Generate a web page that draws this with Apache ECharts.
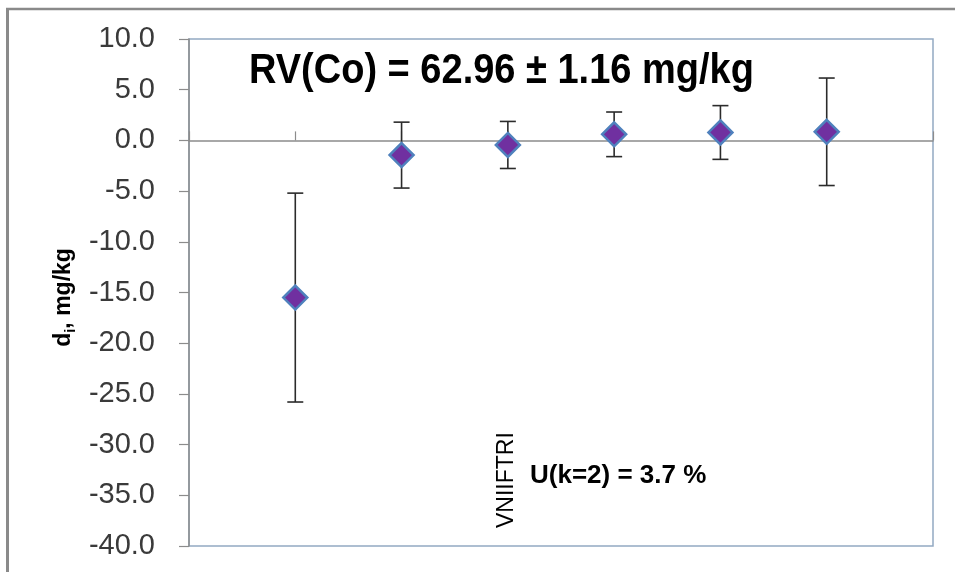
<!DOCTYPE html>
<html>
<head>
<meta charset="utf-8">
<script src="https://cdn.jsdelivr.net/npm/echarts@6/dist/echarts.min.js"></script>
<style>
  html, body { margin: 0; padding: 0; background: #ffffff; }
  #chart { width: 955px; height: 572px; }
</style>
</head>
<body>
<div id="chart"></div>
<script>
// Laboratory positions along the x scale and their deviations d_i with expanded uncertainties
var labPositions = [1, 2, 3, 4, 5, 6];
var deviations = [-15.5, -1.45, -0.45, 0.6, 0.78, 0.85];
var uncertainties = [10.3, 3.25, 2.32, 2.2, 2.65, 5.3];
var yTicks = { min: -40, max: 10, interval: 5 };
var xRange = { min: 0, max: 7, interval: 1 };
var titleText = 'RV(Co) = 62.96 \u00b1 1.16 mg/kg';
var labName = 'VNIIFTRI';
var labUncertainty = 'U(k=2) = 3.7 %';

var font = '"Liberation Sans", Arial, sans-serif';

var points = labPositions.map(function (x, i) { return [x, deviations[i]]; });
var bars = labPositions.map(function (x, i) {
  return [x, deviations[i] - uncertainties[i], deviations[i] + uncertainties[i]];
});

var chart = echarts.init(document.getElementById('chart'), null, { renderer: 'canvas' });

chart.setOption({
  backgroundColor: '#ffffff',
  animation: false,
  grid: {
    left: 189, top: 39, right: 22, bottom: 26,
    show: true, borderColor: '#93a9c2', borderWidth: 1.5, backgroundColor: 'transparent'
  },
  xAxis: {
    type: 'value',
    min: xRange.min, max: xRange.max, interval: xRange.interval,
    axisLine: { show: true, onZero: true, lineStyle: { color: '#8c8c8c', width: 1.5 } },
    axisTick: { show: true, inside: true, length: 9, lineStyle: { color: '#8c8c8c', width: 1.2 } },
    axisLabel: { show: false },
    splitLine: { show: false }
  },
  yAxis: {
    type: 'value',
    min: yTicks.min, max: yTicks.max, interval: yTicks.interval,
    axisLine: { show: true, onZero: false, lineStyle: { color: '#8c8c8c', width: 1.5 } },
    axisTick: { show: true, length: 10, lineStyle: { color: '#8c8c8c', width: 1.2 } },
    axisLabel: {
      margin: 34, fontSize: 29, fontFamily: font, color: '#3a3a3a',
      formatter: function (v) { return v.toFixed(1); }
    },
    splitLine: { show: false },
    name: '{a|d}{s|i}{a|, mg/kg}',
    nameLocation: 'middle',
    nameRotate: 90,
    nameGap: 108,
    nameTextStyle: {
      padding: [0, 10, 0, 0],
      rich: {
        a: { fontSize: 23, fontWeight: 'bold', fontFamily: font, color: '#000', lineHeight: 28 },
        s: { fontSize: 15, fontWeight: 'bold', fontFamily: font, color: '#000', lineHeight: 28, verticalAlign: 'bottom', padding: [9, 0, 0, 0] }
      }
    }
  },
  series: [
    {
      type: 'custom',
      data: bars,
      z: 2,
      renderItem: function (params, api) {
        var x = api.value(0);
        var lo = api.coord([x, api.value(1)]);
        var hi = api.coord([x, api.value(2)]);
        var cap = 8;
        var style = { stroke: '#2b2b2b', lineWidth: 1.6 };
        return {
          type: 'group',
          children: [
            { type: 'line', shape: { x1: lo[0], y1: lo[1], x2: hi[0], y2: hi[1] }, style: style },
            { type: 'line', shape: { x1: lo[0] - cap, y1: lo[1], x2: lo[0] + cap, y2: lo[1] }, style: style },
            { type: 'line', shape: { x1: hi[0] - cap, y1: hi[1], x2: hi[0] + cap, y2: hi[1] }, style: style }
          ]
        };
      }
    },
    {
      type: 'scatter',
      data: points,
      z: 3,
      symbol: 'diamond',
      symbolSize: [24, 24],
      itemStyle: { color: '#7030a0', borderColor: '#4f81bd', borderWidth: 2.5, opacity: 1 }
    }
  ],
  graphic: [
    { type: 'line', shape: { x1: 7.5, y1: 9, x2: 7.5, y2: 572 }, style: { stroke: '#8a8a8a', lineWidth: 3 } },
    { type: 'line', shape: { x1: 6, y1: 9, x2: 955, y2: 9 }, style: { stroke: '#8a8a8a', lineWidth: 2.5 } },
    {
      type: 'text', x: 249, y: 51, scaleY: 1.1, z: 10,
      style: { text: titleText, font: 'bold 38px ' + font, fill: '#000', verticalAlign: 'top' }
    },
    {
      type: 'text', x: 518, y: 528, rotation: Math.PI / 2, z: 10,
      style: { text: labName, font: '23px ' + font, fill: '#000', align: 'left', verticalAlign: 'bottom' }
    },
    {
      type: 'text', left: 530, top: 463, z: 10,
      style: { text: labUncertainty, font: 'bold 26px ' + font, fill: '#000' }
    }
  ]
});
</script>
</body>
</html>
